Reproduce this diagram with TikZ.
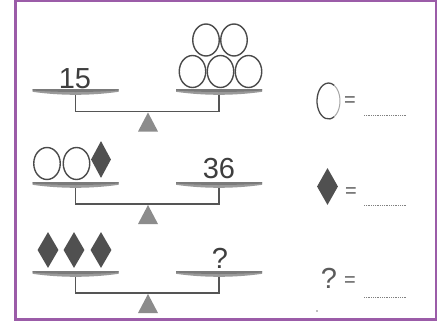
\documentclass[tikz,border=0pt]{standalone}
\usepackage{fontspec}
\setmainfont{Liberation Sans}
\usetikzlibrary{shapes.geometric}
\definecolor{frame}{HTML}{9B5CA8}
\definecolor{inkc}{HTML}{3E3E3E}
\definecolor{ovalc}{HTML}{4A4A4A}
\definecolor{diac}{HTML}{505050}
\definecolor{panc}{HTML}{9A9A9A}
\definecolor{pantop}{HTML}{7A7A7A}
\definecolor{stemc}{HTML}{555555}
\definecolor{tric}{HTML}{8C8C8C}
\tikzset{
  scalepan/.pic={
    \fill[panc] (-43,-2) -- (43,-2) -- (43,0.8) .. controls (15,4.8) and (-15,4.8) .. (-43,0.8) -- cycle;
    \fill[pantop] (-43,-2) -- (43,-2) -- (43,-0.5) .. controls (15,1.5) and (-15,1.5) .. (-43,-0.5) -- cycle;
  },
  fulcrumtri/.pic={\fill[tric] (0,0) -- (10,19) -- (-10,19) -- cycle;},
  stem/.style={draw=stemc, line width=1.5pt},
  oval/.style={ellipse, draw=ovalc, line width=1.4pt, minimum width=26.5pt, minimum height=32pt, inner sep=0pt},
  gem/.style={diamond, fill=diac, minimum width=20pt, minimum height=37pt, inner sep=0pt},
  num/.style={anchor=base, inner sep=0pt, text=inkc, font=\fontsize{29}{30}\selectfont},
  eqs/.style={inner sep=0pt, text=inkc!85, font=\fontsize{20}{21}\selectfont},
  dotline/.style={draw=black!50, line width=0.9pt, dash pattern=on 1pt off 0.8pt},
}
\begin{document}
\begin{tikzpicture}[x=1pt,y=-1pt]
\useasboundingbox (0,0) rectangle (445,322);
\fill[white] (0,0) rectangle (445,322);
\draw[frame, line width=2.8pt] (15.5,1) rectangle (436,319.5);

% ---------- scale 1 ----------
\coordinate (L1) at (75.5,91);
\coordinate (R1) at (219,91);
\coordinate (BL1) at (75.5,111.5);
\coordinate (BR1) at (219,111.5);
\coordinate (F1) at (148,112.5);
\draw[stem] (L1) -- (BL1) -- (BR1) -- (R1);
\pic at (L1) {scalepan};
\pic at (R1) {scalepan};
\pic at (F1) {fulcrumtri};
\node[num] (n15) at (75,88) {15};
\node[oval] (o1a) at (192.5,71.5) {};
\node[oval] (o1b) at (220.5,71.5) {};
\node[oval] (o1c) at (248.5,71.5) {};
\node[oval] (o1d) at (206,40) {};
\node[oval] (o1e) at (234,40) {};

% ---------- scale 2 ----------
\coordinate (L2) at (75.5,184);
\coordinate (R2) at (219,184);
\coordinate (BL2) at (75.5,204);
\coordinate (BR2) at (219,204);
\coordinate (F2) at (148,205);
\draw[stem] (L2) -- (BL2) -- (BR2) -- (R2);
\pic at (L2) {scalepan};
\pic at (R2) {scalepan};
\pic at (F2) {fulcrumtri};
\node[oval] (o2a) at (47,163.5) {};
\node[oval] (o2b) at (76.5,163.5) {};
\node[gem] (g2) at (101,159.5) {};
\node[num] (n36) at (219,178) {36};

% ---------- scale 3 ----------
\coordinate (L3) at (75.5,273);
\coordinate (R3) at (219,273);
\coordinate (BL3) at (75.5,293);
\coordinate (BR3) at (219,293);
\coordinate (F3) at (148,294);
\draw[stem] (L3) -- (BL3) -- (BR3) -- (R3);
\pic at (L3) {scalepan};
\pic at (R3) {scalepan};
\pic at (F3) {fulcrumtri};
\node[gem, minimum width=21pt, minimum height=36pt] (g3a) at (48,250) {};
\node[gem, minimum width=21pt, minimum height=36pt] (g3b) at (74,250) {};
\node[gem, minimum width=21pt, minimum height=36pt] (g3c) at (101,250) {};
\node[num] (nq) at (220,268) {?};

% ---------- answers ----------
\node[ellipse, minimum width=23pt, minimum height=36pt, inner sep=0pt] (E) at (328.5,101) {};
\draw[ovalc, line width=1.3pt] (E) ++(5.75,15.59) arc[start angle=60, end angle=300, x radius=11.5, y radius=18];
\draw[black!35, line width=1pt] (E) ++(5.75,15.59) arc[start angle=60, end angle=-60, x radius=11.5, y radius=18];
\node[eqs] (eq1) at (350,102) {=};
\coordinate (d1a) at (364,115);
\coordinate (d1b) at (407,115);
\draw[dotline] (d1a) -- (d1b);

\node[gem, minimum width=21pt, minimum height=37pt] (G) at (327.5,186.5) {};
\node[eqs] (eq2) at (351,193) {=};
\coordinate (d2a) at (364,205);
\coordinate (d2b) at (407,205);
\draw[dotline] (d2a) -- (d2b);

\node[num, text=inkc!85] (Q) at (329,288) {?};
\node[eqs] (eq3) at (350,282) {=};
\coordinate (d3a) at (364,297);
\coordinate (d3b) at (407,297);
\draw[dotline] (d3a) -- (d3b);

\fill[black!50] (317,311) circle[radius=0.8];
\end{tikzpicture}
\end{document}
